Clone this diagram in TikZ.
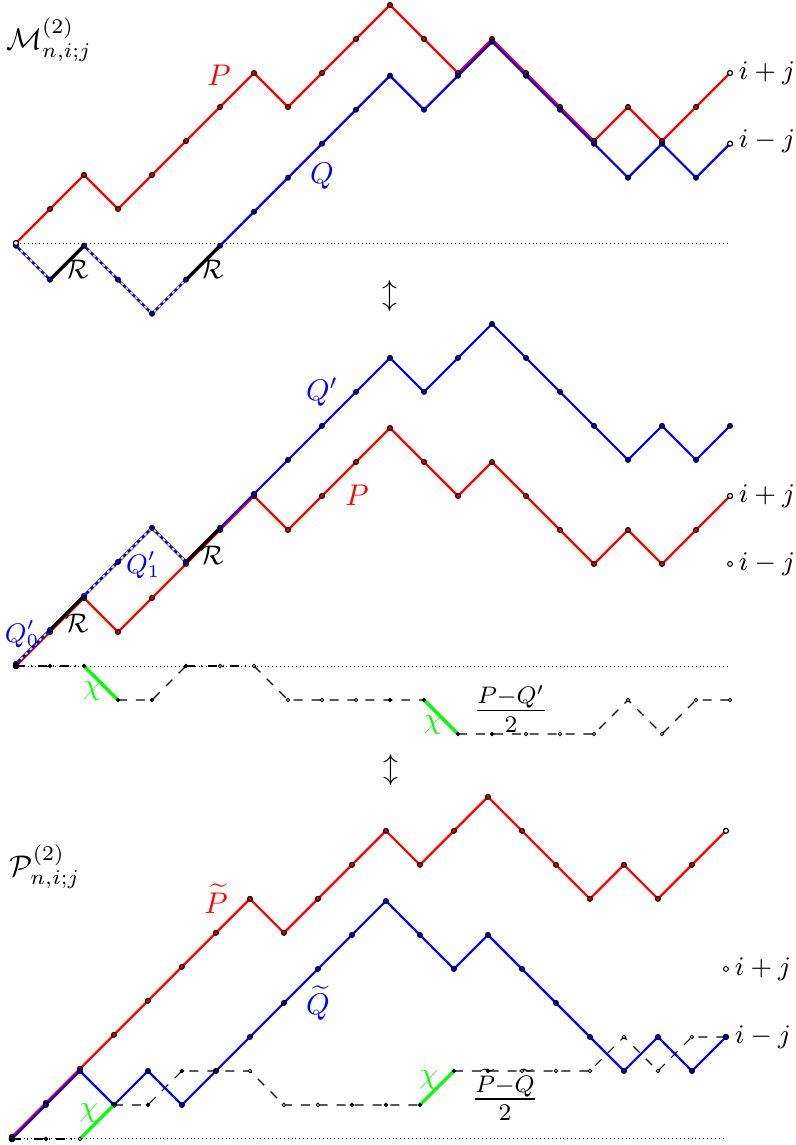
\documentclass[tikz,border=0pt]{standalone}
\usepackage{amsmath,amssymb}
\usetikzlibrary{calc,positioning}

% lattice path from (x0,y0) through the given heights
\newcommand{\hpath}[4]{\draw[#1] (#2,#3) \foreach \h [count=\k] in {#4} { -- (#2+\k,\h) };}
% vertex marks on a lattice path
\newcommand{\hmarks}[3]{\foreach \h [count=\k from 0] in {#3} \path[#1] (#2+\k,\h) circle (0.8pt);}

\begin{document}
\begin{tikzpicture}[
    x=0.4cm, y=0.4cm,
    ppath/.style={red, line width=0.75pt, line join=round},
    qpath/.style={blue, line width=0.75pt, line join=round},
    qdash/.style={blue, line width=0.9pt},
    ydash/.style={yellow, line width=0.6pt, dash pattern=on 1pt off 1.2pt},
    rseg/.style={black, line width=1.1pt},
    chiseg/.style={green, line width=1.1pt},
    dline/.style={black, line width=0.4pt, dashed},
    dbase/.style={black, line width=0.4pt, dashdotted},
    axis/.style={black, line width=0.3pt, densely dotted},
    vtx/.style={draw=black, line width=0.4pt, fill=#1},
    endpt/.style={draw=black, line width=0.35pt, fill=white},
    dpt/.style={draw=black, line width=0.3pt, fill=#1},
    endlbl/.style={right, inner sep=2.8pt, font=\small}
  ]
    \useasboundingbox (-0.4706,-26.529) rectangle (22.912,7.147);

    % ---- M^{(2)}_{n,i;j}
    \draw[axis] (0,0) -- (21,0);
    \hpath{ppath}{0}{0}{1,2,1,2,3,4,5,4,5,6,7,6,5,6,5,4,3,4,3,4,5}
    \hmarks{vtx=red}{0}{0,1,2,1,2,3,4,5,4,5,6,7,6,5,6,5,4,3,4,3,4,5}
    \begin{scope}[yshift=-0.9pt]
      \draw[qdash] (0,0) -- (1,-1);
      \draw[ydash] (0,0) -- (1,-1);
      \draw[qdash] (2,0) -- (3,-1) -- (4,-2) -- (5,-1);
      \draw[ydash] (2,0) -- (3,-1) -- (4,-2) -- (5,-1);
      \draw[rseg] (1,-1) -- (2,0);
      \draw[rseg] (5,-1) -- (6,0);
      \hpath{qpath}{6}{0}{1,2,3,4,5,4,5,6,5,4,3,2,3,2,3}
      \hmarks{vtx=blue}{0}{0,-1,0,-1,-2,-1,0,1,2,3,4,5,4,5,6,5,4,3,2,3,2,3}
      \path[endpt] (21,3) circle (0.8pt);
    \end{scope}
    \path[endpt] (0,0) circle (0.8pt);
    \path[endpt] (21,5) circle (0.8pt);

    \node (lblM) at (0.97,5.97) {$\mathcal{M}^{(2)}_{n,i;j}$};
    \node[text=red] (lblP) at (5.97,4.94) {$P$};
    \node[text=blue] (lblQ) at (9.0,1.97) {$Q$};
    \node (lblRa) at (1.79,-0.76) {\small$\mathcal{R}$};
    \node (lblRb) at (5.76,-0.76) {\small$\mathcal{R}$};
    \node[endlbl] (ipjA) at (21,5) {$i+j$};
    \node[endlbl] (imjA) at (21,3) {$i-j$};
    \node (arrA) at (11.0,-1.56) {$\updownarrow$};
    \node (arrB) at (11.03,-15.5) {$\updownarrow$};

    % ---- middle
    \begin{scope}[shift={(0,-12.44)}]
      \draw[axis] (0,0) -- (21,0);
      \hpath{ppath}{0}{0}{1,2,1,2,3,4,5,4,5,6,7,6,5,6,5,4,3,4,3,4,5}
      \hmarks{vtx=red}{0}{0,1,2,1,2,3,4,5,4,5,6,7,6,5,6,5,4,3,4,3,4,5}
      \begin{scope}[yshift=0.7pt]
        \draw[qdash] (0,0) -- (1,1);
        \draw[ydash] (0,0) -- (1,1);
        \draw[qdash] (2,2) -- (3,3) -- (4,4) -- (5,3);
        \draw[ydash] (2,2) -- (3,3) -- (4,4) -- (5,3);
        \draw[rseg] (1,1) -- (2,2);
        \draw[rseg] (5,3) -- (6,4);
        \hpath{qpath}{6}{4}{5,6,7,8,9,8,9,10,9,8,7,6,7,6,7}
        \hmarks{vtx=blue}{0}{0,1,2,3,4,3,4,5,6,7,8,9,8,9,10,9,8,7,6,7,6,7}
      \end{scope}
      \path[endpt] (21,5) circle (0.8pt);
      \path[endpt] (21,3) circle (0.8pt);
      \path[vtx=black] (0,0) circle (0.9pt);

      \draw[dbase] (0,0) -- (2,0);
      \draw[chiseg] (2,0) -- (3,-1);
      \draw[dline] (3,-1) -- (4,-1) -- (5,0);
      \draw[dbase] (5,0) -- (7,0);
      \draw[dline] (7,0) -- (8,-1) -- (12,-1);
      \draw[chiseg] (12,-1) -- (13,-2);
      \draw[dline] (13,-2) -- (17,-2) -- (18,-1) -- (19,-2) -- (20,-1) -- (21,-1);
      \foreach \x/\h in {1/0,2/0,3/-1,4/-1,5/0,11/-1,12/-1,13/-2,14/-2}
        \path[dpt=black] (\x,\h) circle (0.6pt);
      \foreach \x/\h in {6/0,7/0,8/-1,9/-1,10/-1,15/-2,16/-2,17/-2,18/-1,19/-2,20/-1,21/-1}
        \path[dpt=white] (\x,\h) circle (0.6pt);

      \node[text=blue] (lblQp) at (9.0,8.06) {$Q'$};
      \node[text=red] (lblPm) at (10.03,5.03) {$P$};
      \node[text=blue] (lblQa) at (3.74,2.97) {\small$Q'_1$};
      \node[text=blue] (lblQb) at (0.18,0.94) {\small$Q'_0$};
      \node (lblRc) at (1.79,1.26) {\small$\mathcal{R}$};
      \node (lblRd) at (5.76,3.24) {\small$\mathcal{R}$};
      \node[text=green] (chiA) at (2.24,-0.74) {$\chi$};
      \node[text=green] (chiB) at (12.26,-1.74) {$\chi$};
      \node (fracA) at (14.56,-1.26) {\large$\frac{P-Q'}{2}$};
      \node[endlbl] (ipjB) at (21,5) {$i+j$};
      \node[endlbl] (imjB) at (21,3) {$i-j$};
    \end{scope}

    % ---- P^{(2)}_{n,i;j}
    \begin{scope}[shift={(-0.12,-26.35)}]
      \draw[axis] (0,0) -- (21,0);
      \begin{scope}[yshift=0.7pt]
        \hpath{ppath}{0}{0}{1,2,3,4,5,6,7,6,7,8,9,8,9,10,9,8,7,8,7,8,9}
        \hmarks{vtx=red}{0}{0,1,2,3,4,5,6,7,6,7,8,9,8,9,10,9,8,7,8,7,8,9}
        \path[endpt] (21,9) circle (0.8pt);
      \end{scope}
      \hpath{qpath}{0}{0}{1,2,1,2,1,2,3,4,5,6,7,6,5,6,5,4,3,2,3,2,3}
      \hmarks{vtx=blue}{0}{0,1,2,1,2,1,2,3,4,5,6,7,6,5,6,5,4,3,2,3,2,3}
      \path[endpt] (21,5) circle (0.8pt);
      \path[vtx=black] (0,0) circle (0.9pt);

      \draw[dbase] (0,0) -- (2,0);
      \draw[chiseg] (2,0) -- (3,1);
      \draw[dline] (3,1) -- (4,1) -- (5,2) -- (7,2) -- (8,1) -- (12,1);
      \draw[chiseg] (12,1) -- (13,2);
      \draw[dline] (13,2) -- (17,2) -- (18,3) -- (19,2) -- (20,3) -- (21,3);
      \foreach \x/\h in {1/0,3/1,4/1,5/2,6/2,10/1,11/1,12/1,13/2,14/2}
        \path[dpt=black] (\x,\h) circle (0.6pt);
      \foreach \x/\h in {2/0,7/2,8/1,9/1,15/2,16/2,17/2,18/3,19/2,20/3}
        \path[dpt=white] (\x,\h) circle (0.6pt);
      \path[vtx=blue] (21,3) circle (0.8pt);

      \node (lblPcal) at (0.97,8.0) {$\mathcal{P}^{(2)}_{n,i;j}$};
      \node[text=red] (lblPt) at (6.0,7.06) {$\widetilde{P}$};
      \node[text=blue] (lblQt) at (9.0,4.0) {$\widetilde{Q}$};
      \node[text=green] (chiC) at (2.26,0.76) {$\chi$};
      \node[text=green] (chiD) at (12.26,1.74) {$\chi$};
      \node (fracB) at (14.5,1.3) {\large$\frac{\widetilde{P}-\widetilde{Q}}{2}$};
      \node[endlbl] (ipjC) at (21,5) {$i+j$};
      \node[endlbl] (imjC) at (21,3) {$i-j$};
    \end{scope}
  \end{tikzpicture}
\end{document}
